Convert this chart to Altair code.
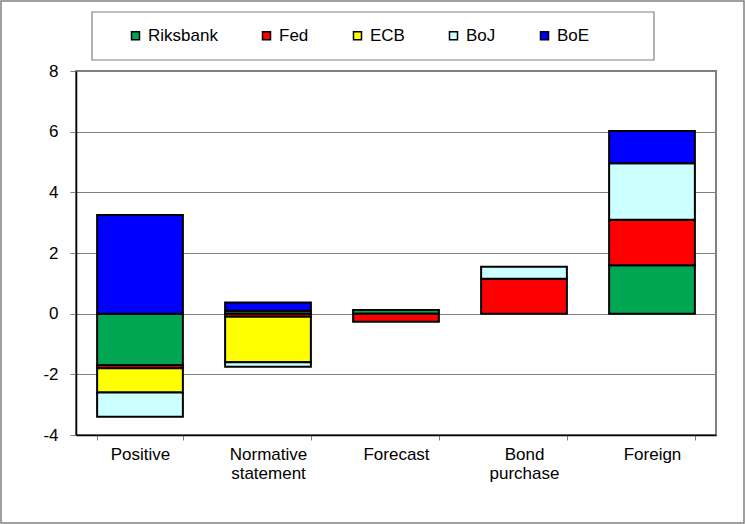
import altair as alt
import pandas as pd

categories = ["Positive", "Normative statement", "Forecast", "Bond purchase", "Foreign"]
banks = ["Riksbank", "Fed", "ECB", "BoJ", "BoE"]
riksbank = [-1.7, 0.1, 0.12, 0.0, 1.6]
fed = [-0.1, -0.1, -0.27, 1.15, 1.5]
ecb = [-0.8, -1.5, 0.0, 0.0, 0.0]
boj = [-0.8, -0.15, 0.0, 0.4, 1.86]
boe = [3.25, 0.27, 0.0, 0.0, 1.06]
colors = ["#00A651", "#FF0000", "#FFFF00", "#CCFFFF", "#0000FF"]

series = [riksbank, fed, ecb, boj, boe]
rows = []
for bi, (bank, vals) in enumerate(zip(banks, series)):
    for cat, v in zip(categories, vals):
        rows.append({"category": cat, "bank": bank, "order": bi, "value": v})
df = pd.DataFrame(rows)

FONT = "Liberation Sans"
FS = 17

bars = alt.Chart(df).transform_filter("datum.value != 0").mark_bar(
    stroke="black", strokeWidth=2
).encode(
    x=alt.X("category:N", sort=categories,
            scale=alt.Scale(paddingInner=0.33, paddingOuter=0.165),
            axis=alt.Axis(title=None, labelAngle=0, labelExpr="split(datum.label, ' ')",
                          tickBand="extent", labelFontSize=FS, labelFont=FONT,
                          labelColor="black", labelLineHeight=19, labelPadding=6,
                          tickColor="#808080", tickSize=5, domainColor="black",
                          domainWidth=1.5, grid=False)),
    y=alt.Y("value:Q", stack="zero",
            scale=alt.Scale(domain=[-4, 8], nice=False),
            axis=alt.Axis(title=None, values=[-4, -2, 0, 2, 4, 6, 8], grid=True,
                          labelExpr="toString(datum.value)",
                          gridColor="#808080", gridWidth=1.2, labelFontSize=FS,
                          labelFont=FONT, labelColor="black", tickColor="#808080",
                          tickSize=6, labelPadding=12, domainColor="black",
                          domainWidth=1.5)),
    color=alt.Color("bank:N", sort=banks,
                    scale=alt.Scale(domain=banks, range=colors),
                    legend=alt.Legend(title=None, orient="none", direction="horizontal",
                                      legendX=51, legendY=-44, padding=0,
                                      symbolType="square", symbolSize=64,
                                      symbolStrokeColor="black", symbolStrokeWidth=1.5,
                                      symbolOpacity=1,
                                      labelFont=FONT, labelFontSize=FS, labelColor="black",
                                      labelOffset=4, columnPadding=40)),
    order=alt.Order("order:Q"),
)

deco = alt.Data(values=[{}])
legend_box = alt.Chart(deco).mark_rect(fill="white", stroke="#808080", strokeWidth=1.2).encode(
    x=alt.value(16), x2=alt.value(578), y=alt.value(-59), y2=alt.value(-11)
)
outer_box = alt.Chart(deco).mark_rect(fillOpacity=0, stroke="#808080", strokeWidth=1.5).encode(
    x=alt.value(-75), x2=alt.value(668), y=alt.value(-70), y2=alt.value(452)
)

chart = alt.layer(outer_box, legend_box, bars).properties(
    width=640, height=364,
    autosize=alt.AutoSizeParams(type="none"),
    padding={"left": 76, "top": 71, "right": 29, "bottom": 89},
    background="white",
).configure_view(stroke="#808080", strokeWidth=2)

chart.save("out.html", embed_options={"renderer": "svg", "actions": False})
